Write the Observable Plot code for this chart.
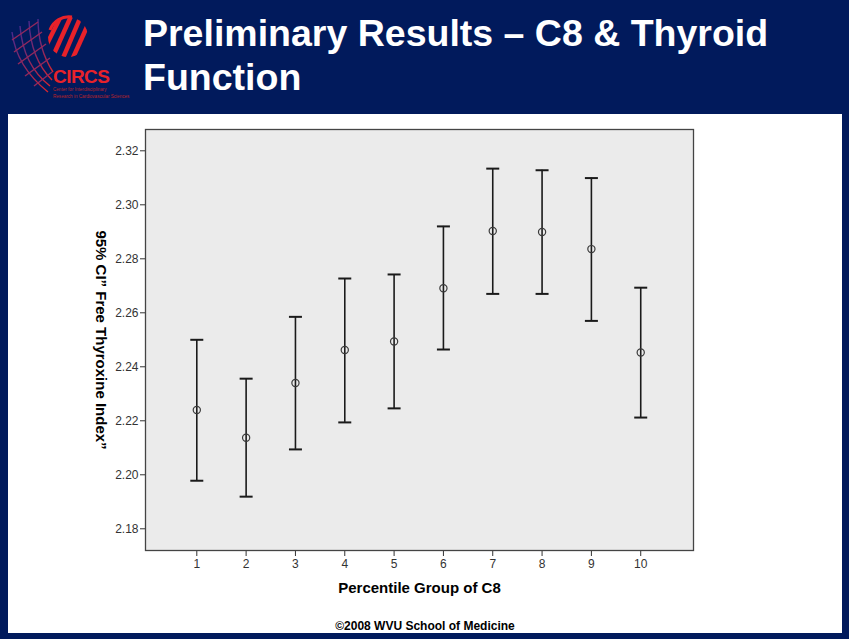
<!DOCTYPE html>
<html>
<head>
<meta charset="utf-8">
<script src="https://cdn.jsdelivr.net/npm/d3@7"></script>
<script src="https://cdn.jsdelivr.net/npm/@observablehq/plot@0.6"></script>
<style>
  html, body { margin: 0; padding: 0; }
  body { width: 849px; height: 639px; background: #011a5c; position: relative; overflow: hidden;
         font-family: "Liberation Sans", Arial, sans-serif; }
  #logo { position: absolute; left: 0; top: 0; }
  #title { position: absolute; left: 143px; top: 11px; color: #fff; font-weight: bold;
           font-size: 37.5px; line-height: 44px; white-space: nowrap; }
  #panel { position: absolute; left: 8px; top: 114px; width: 834px; height: 519px; background: #fff; overflow: hidden; }
  #chart { position: absolute; left: 0; top: 0; }
  #caption { position: absolute; left: 0; width: 834px; top: 505px; text-align: center; font-size: 12px;
             font-weight: bold; color: #000; line-height: 14px; }
</style>
</head>
<body>
<svg id="logo" width="140" height="112" viewBox="0 0 140 112">
  <defs>
    <linearGradient id="mesh" x1="0" y1="0" x2="1" y2="1">
      <stop offset="0" stop-color="#4b2a8c"/>
      <stop offset="1" stop-color="#d9252c"/>
    </linearGradient>
    <clipPath id="disc"><circle cx="68" cy="37" r="20"/></clipPath>
  </defs>
  <g fill="none" stroke="url(#mesh)" stroke-width="1.4">
    <path d="M12,32 C15,56 28,76 48,92"/>
    <path d="M20,26 C22,52 32,72 50,86"/>
    <path d="M29,21 C30,46 38,66 52,80"/>
    <path d="M38,19 C38,40 44,58 53,72"/>
    <path d="M12,40 L38,22"/>
    <path d="M14,52 L42,32"/>
    <path d="M18,64 L46,44"/>
    <path d="M25,76 L50,58"/>
    <path d="M34,86 L52,72"/>
  </g>
  <g clip-path="url(#disc)" stroke="#e8222a" stroke-width="4.5">
    <line x1="62" y1="14" x2="44" y2="50"/>
    <line x1="72" y1="14" x2="54" y2="54"/>
    <line x1="81" y1="16" x2="63" y2="58"/>
    <line x1="90" y1="20" x2="72" y2="60"/>
  </g>
  <path d="M50,30 A20,20 0 0 1 72,17" fill="none" stroke="#e8222a" stroke-width="3"/>
  <text x="53" y="83" font-family="Liberation Sans, Arial, sans-serif" font-weight="bold" font-size="19" fill="#e8222a" textLength="57">CIRCS</text>
  <text x="53" y="91" font-family="Liberation Sans, Arial, sans-serif" font-size="4.6" fill="#b8242a">Center for Interdisciplinary</text>
  <text x="53" y="98" font-family="Liberation Sans, Arial, sans-serif" font-size="4.6" fill="#b8242a">Research in Cardiovascular Sciences</text>
</svg>
<div id="title">Preliminary Results – C8 &amp; Thyroid<br>Function</div>
<div id="panel">
  <div id="chart"></div>
  <div id="caption">©2008 WVU School of Medicine</div>
</div>
<script>
// ---- data ----
const groups = [1, 2, 3, 4, 5, 6, 7, 8, 9, 10];
const means  = [2.2240, 2.2137, 2.2340, 2.2462, 2.2494, 2.2691, 2.2903, 2.2899, 2.2836, 2.2453];
const lower  = [2.1978, 2.1919, 2.2094, 2.2194, 2.2246, 2.2464, 2.2670, 2.2670, 2.2570, 2.2212];
const upper  = [2.2500, 2.2356, 2.2585, 2.2727, 2.2742, 2.2920, 2.3134, 2.3128, 2.3099, 2.2693];
const xTicks = [1, 2, 3, 4, 5, 6, 7, 8, 9, 10];
const yTicks = [2.18, 2.20, 2.22, 2.24, 2.26, 2.28, 2.30, 2.32];
const xLabel = "Percentile Group of C8";
const yLabel = "95% CI\u201D Free Thyroxine Index\u201D";

const data = groups.map((g, i) => ({g, mean: means[i], lo: lower[i], hi: upper[i]}));

// horizontal-line symbol for error-bar caps
const capSymbol = {
  draw(ctx, size) {
    const h = Math.sqrt(size / Math.PI);
    ctx.moveTo(-h, 0);
    ctx.lineTo(h, 0);
  }
};

const chart = Plot.plot({
  width: 834,
  height: 505,
  marginLeft: 137,
  marginRight: 149,
  marginTop: 15,
  marginBottom: 69,
  style: {background: "transparent", fontFamily: "Liberation Sans, Arial, sans-serif", fontSize: "12px", color: "#333", overflow: "visible"},
  x: {domain: [-0.04, 11.07], ticks: xTicks, tickFormat: d => String(d), tickSize: 6, tickPadding: 3, label: null},
  y: {domain: [2.17196, 2.32789], ticks: yTicks, tickFormat: d => d.toFixed(2), tickSize: 5, tickPadding: 2, label: null},
  marks: [
    Plot.frame({fill: "#ebebeb"}),
    Plot.ruleX(data, {x: "g", y1: "lo", y2: "hi", stroke: "#1a1a1a", strokeWidth: 1.6}),
    Plot.dot(data, {x: "g", y: "hi", symbol: capSymbol, r: 6.5, stroke: "#1a1a1a", strokeWidth: 2, fill: "none"}),
    Plot.dot(data, {x: "g", y: "lo", symbol: capSymbol, r: 6.5, stroke: "#1a1a1a", strokeWidth: 2, fill: "none"}),
    Plot.dot(data, {x: "g", y: "mean", r: 3.6, stroke: "#3a3a3a", strokeWidth: 1.2, fill: "none"}),
    Plot.frame({stroke: "#444", strokeWidth: 1.3}),
    Plot.text([yLabel], {text: d => d, frameAnchor: "left", dx: -45, rotate: 90, textAnchor: "middle", lineAnchor: "middle", fontWeight: "bold", fontSize: 15, fill: "#000"}),
    Plot.text([xLabel], {text: d => d, frameAnchor: "bottom", dy: 38, textAnchor: "middle", lineAnchor: "middle", fontWeight: "bold", fontSize: 15, fill: "#000"})
  ]
});
document.getElementById("chart").appendChild(chart);
</script>
</body>
</html>
